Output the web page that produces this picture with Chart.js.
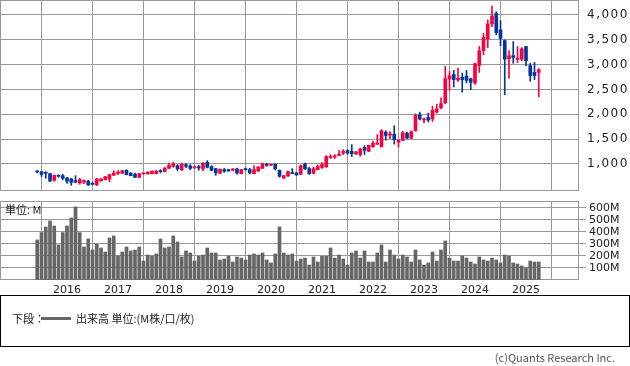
<!DOCTYPE html>
<html>
<head>
<meta charset="utf-8">
<script src="https://cdn.jsdelivr.net/npm/chart.js@4"></script>
<style>
  body { margin: 0; background: #fff; width: 630px; height: 366px; position: relative; overflow: hidden; }
  canvas { position: absolute; left: 0; }
  #price { top: 0; }
  #vol { top: 201px; }
  .txt { position: absolute; font-family: "Noto Sans CJK JP", "DejaVu Sans", sans-serif; font-size: 11px; color: #222; white-space: nowrap; }
  #unit { left: 5px; top: 201px; line-height: 16px; }
  #legendBox { position: absolute; left: 0; top: 295px; width: 628px; height: 50px; border: 1px solid #000; }
  #legendLine { position: absolute; left: 40px; top: 21px; width: 30px; height: 3px; background: #666; }
  #copy { right: 15px; top: 349px; color: #555; }
</style>
</head>
<body>
<canvas id="price" width="630" height="191"></canvas>
<canvas id="vol" width="630" height="96"></canvas>
<div class="txt" id="unit">単位: M</div>
<div id="legendBox">
  <div class="txt" style="left:11px; top:14px;">下段：</div>
  <div id="legendLine"></div>
  <div class="txt" style="left:75px; top:14px;">出来高 単位:(M株/口/枚)</div>
</div>
<div class="txt" id="copy">(c)Quants Research Inc.</div>
<script>
// monthly candles, Jun 2015 .. Apr 2025
const startYear = 2015, startMonth = 6, count = 119;
const months = [];
for (let i = 0; i < count; i++) {
  let mm = startMonth - 1 + i;
  months.push((startYear + Math.floor(mm / 12)) + "-" + String(mm % 12 + 1).padStart(2, "0"));
}

const open = [855, 846, 833, 806, 672, 772, 765, 720, 700, 665, 618, 632, 658, 611, 578, 658, 685, 699, 772, 812,
  812, 872, 819, 792, 732, 800, 800, 806, 806, 866, 846, 913, 953, 967, 886, 987, 960, 920, 946, 900,
  1033, 946, 906, 812, 886, 886, 873, 900, 806, 900, 886, 806, 859, 913, 993, 973, 993, 873, 719, 759,
  826, 819, 792, 1000, 906, 812, 886, 930, 946, 1130, 1140, 1170, 1215, 1268, 1255, 1208, 1190, 1335, 1255, 1350,
  1400, 1350, 1640, 1580, 1600, 1440, 1475, 1620, 1520, 1670, 1990, 1885, 1935, 1905, 2045, 2130, 2230, 2710, 2800, 2690,
  2745, 2770, 2715, 2630, 2985, 3280, 3520, 3820, 4030, 3700, 3485, 3120, 3180, 3105, 3110, 3365, 2980, 2845, 2845];
const high = [870, 850, 846, 812, 780, 785, 792, 725, 705, 765, 712, 680, 672, 632, 712, 705, 752, 790, 866, 866,
  872, 886, 826, 819, 812, 826, 846, 860, 866, 886, 926, 1020, 1033, 987, 1020, 1007, 987, 953, 973, 1033,
  1067, 966, 913, 900, 913, 893, 906, 920, 893, 920, 913, 967, 946, 1020, 1013, 1000, 1007, 880, 772, 852,
  906, 826, 980, 1020, 933, 940, 980, 1030, 1170, 1190, 1190, 1270, 1290, 1290, 1390, 1255, 1320, 1370, 1380, 1455,
  1590, 1690, 1670, 1655, 1770, 1490, 1655, 1640, 1665, 2010, 2045, 1925, 2025, 2160, 2200, 2330, 2965, 2865, 2885, 2930,
  2830, 2885, 2730, 3030, 3365, 3630, 3900, 4180, 4065, 3885, 3500, 3280, 3465, 3365, 3345, 3365, 3030, 3045, 2920];
const low = [820, 752, 712, 645, 652, 732, 685, 611, 571, 625, 591, 605, 565, 578, 565, 652, 680, 645, 770, 786,
  806, 780, 760, 725, 725, 795, 795, 800, 800, 820, 840, 906, 933, 866, 866, 926, 886, 913, 873, 866,
  920, 866, 772, 806, 833, 853, 866, 793, 800, 873, 800, 800, 850, 906, 953, 966, 880, 732, 705, 752,
  806, 770, 786, 890, 792, 800, 880, 910, 930, 1110, 1110, 1165, 1190, 1200, 1150, 1190, 1155, 1190, 1250, 1335,
  1390, 1335, 1480, 1510, 1400, 1340, 1470, 1510, 1510, 1660, 1885, 1825, 1845, 1855, 2025, 2110, 2216, 2485, 2550, 2665,
  2445, 2630, 2500, 2600, 2845, 3200, 3345, 3765, 3600, 3380, 2395, 2730, 3030, 3045, 3080, 2980, 2665, 2700, 2350];
const close = [840, 792, 812, 658, 772, 752, 712, 652, 632, 632, 685, 665, 578, 591, 699, 699, 745, 786, 819, 833,
  866, 786, 765, 732, 806, 819, 833, 852, 859, 846, 920, 973, 1000, 900, 993, 953, 913, 946, 920, 1013,
  933, 873, 819, 893, 853, 859, 900, 819, 886, 886, 819, 886, 940, 1000, 973, 993, 900, 752, 765, 846,
  806, 779, 966, 900, 806, 906, 953, 990, 1147, 1150, 1160, 1195, 1255, 1220, 1208, 1240, 1300, 1275, 1375, 1420,
  1420, 1670, 1575, 1610, 1490, 1475, 1630, 1520, 1650, 1980, 1905, 1910, 1885, 2080, 2110, 2216, 2717, 2778, 2700, 2725,
  2700, 2685, 2645, 3020, 3280, 3550, 3820, 3980, 3645, 3530, 3110, 3180, 3145, 3130, 3320, 3080, 2780, 2780, 2900];
// volume, millions
const volume = [334, 395, 442, 492, 450, 292, 395, 450, 517, 609, 395, 275, 342, 250, 300, 267, 233, 350, 367, 200,
  233, 275, 242, 250, 275, 158, 208, 200, 217, 342, 267, 275, 367, 317, 192, 242, 225, 158, 200, 208,
  267, 225, 225, 167, 175, 200, 150, 192, 183, 167, 208, 217, 208, 225, 167, 142, 217, 442, 225, 208,
  217, 158, 175, 183, 125, 192, 150, 197, 197, 267, 183, 208, 175, 125, 225, 242, 183, 242, 150, 150,
  225, 292, 150, 250, 208, 175, 208, 192, 150, 250, 167, 125, 142, 233, 158, 250, 325, 183, 158, 158,
  200, 183, 150, 133, 192, 167, 158, 183, 167, 142, 208, 200, 142, 133, 117, 100, 158, 150, 150];

const yearTicks = [0, 12, 24, 36, 48, 60, 72, 84, 96, 108];
const yearLabels = ["2016", "2017", "2018", "2019", "2020", "2021", "2022", "2023", "2024", "2025"];
const priceTicks = [1000, 1500, 2000, 2500, 3000, 3500, 4000];
const volTicks = [100, 200, 300, 400, 500, 600];

const upColor = "#fa003f", downColor = "#06359c", gridColor = "#999";

// months since Jan 2016
const xs = months.map(s => (parseInt(s.slice(0, 4)) - 2016) * 12 + parseInt(s.slice(5)) - 1);
const colors = close.map((c, i) => c >= open[i] ? upColor : downColor);

const frame = {
  id: "frame",
  beforeDatasetsDraw(chart) {
    const a = chart.chartArea, ctx = chart.ctx;
    ctx.save();
    ctx.strokeStyle = gridColor;
    ctx.lineWidth = 1;
    ctx.strokeRect(a.left + 0.5, a.top + 0.5, a.right - a.left - 1, a.bottom - a.top - 1);
    ctx.restore();
  }
};
const spacing = {
  id: "spacing",
  beforeDraw(chart) { chart.ctx.letterSpacing = "1.5px"; }
};

// no extra room for tick labels at the ends of an axis
function noPad(s) {
  s.paddingTop = 0; s.paddingBottom = 0; s.paddingLeft = 0; s.paddingRight = 0;
}

const xMin = -67 / 4.25, xMax = 512 / 4.25;

new Chart(document.getElementById("price"), {
  type: "bar",
  data: {
    datasets: [
      {
        data: xs.map((x, i) => ({ x: x, y: [low[i], high[i]] })),
        backgroundColor: colors,
        barThickness: 1,
        grouped: false,
      },
      {
        data: xs.map((x, i) => ({ x: x, y: [open[i], close[i]] })),
        backgroundColor: colors,
        barThickness: 3,
        minBarLength: 1,
        grouped: false,
      },
    ],
  },
  options: {
    responsive: false,
    animation: false,
    layout: { padding: 0 },
    plugins: { legend: { display: false }, tooltip: { enabled: false } },
    scales: {
      x: {
        type: "linear",
        min: xMin,
        max: xMax,
        offset: false,
        grid: { color: gridColor, drawTicks: false },
        border: { display: false },
        ticks: { display: false },
        afterBuildTicks: (s) => { s.ticks = yearTicks.map(v => ({ value: v })); },
        afterFit: (s) => { s.height = 0; noPad(s); },
      },
      y: {
        position: "right",
        min: 456,
        max: 4302,
        grid: { color: gridColor, drawTicks: false },
        border: { display: false },
        ticks: {
          padding: 8,
          autoSkip: false,
          color: "#222",
          font: { family: "DejaVu Sans", size: 12 },
          callback: (v) => v.toLocaleString("en-US"),
        },
        afterBuildTicks: (s) => { s.ticks = priceTicks.map(v => ({ value: v })); },
        afterFit: (s) => { s.width = 51; noPad(s); },
      },
    },
  },
  plugins: [frame, spacing],
});

new Chart(document.getElementById("vol"), {
  type: "bar",
  data: {
    datasets: [
      {
        data: xs.map((x, i) => ({ x: x, y: volume[i] })),
        backgroundColor: "#666",
        barThickness: 3,
      },
    ],
  },
  options: {
    responsive: false,
    animation: false,
    layout: { padding: 0 },
    plugins: { legend: { display: false }, tooltip: { enabled: false } },
    scales: {
      x: {
        type: "linear",
        min: xMin,
        max: xMax,
        offset: false,
        grid: { color: gridColor, drawTicks: false },
        border: { display: false },
        ticks: {
          padding: 4,
          color: "#222",
          maxRotation: 0,
          autoSkip: false,
          font: { family: "DejaVu Sans", size: 11 },
          callback: (v) => yearLabels[yearTicks.indexOf(v)],
        },
        afterBuildTicks: (s) => { s.ticks = yearTicks.map(v => ({ value: v })); },
        afterFit: (s) => { s.height = 17; noPad(s); },
      },
      y: {
        position: "right",
        min: 0,
        max: 658,
        grid: { color: gridColor, drawTicks: true, tickLength: 7 },
        border: { display: false },
        ticks: {
          padding: 3,
          autoSkip: false,
          color: "#222",
          font: { family: "DejaVu Sans", size: 11 },
          callback: (v) => v + "M",
        },
        afterBuildTicks: (s) => { s.ticks = volTicks.map(v => ({ value: v })); },
        afterFit: (s) => { s.width = 51; noPad(s); },
      },
    },
  },
  plugins: [frame],
});
</script>
</body>
</html>
